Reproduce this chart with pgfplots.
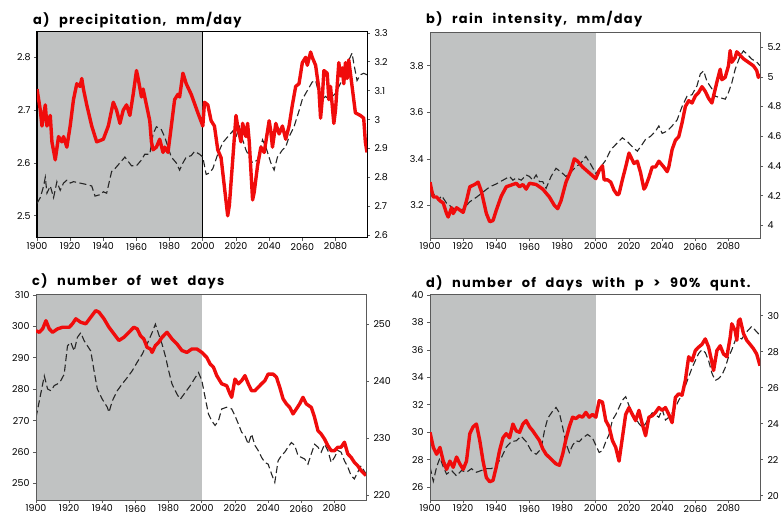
\documentclass[border=0pt]{standalone}
\usepackage{pgfplots}
\pgfplotsset{compat=1.18}
\usepackage{fontspec}
\setmainfont{Poppins}
\newfontfamily\titlefont{Poppins}[LetterSpace=10,WordSpace=2.4]
\definecolor{bandgrey}{RGB}{192,194,194}
\definecolor{redl}{RGB}{240,12,12}
\definecolor{framec}{RGB}{90,90,90}
\tikzset{
  ttl/.style={font=\titlefont\bfseries\fontsize{13}{14}\selectfont,anchor=base west,inner sep=0pt},
  redline/.style={redl,line width=3.4bp,line join=round},
  dashl/.style={black!85,line width=1.1bp,dash pattern=on 7bp off 3.5bp}
}
\pgfplotsset{
  base/.style={width=330bp,height=206bp,scale only axis,anchor=south west,
    xmin=1900,xmax=2099,clip=true,
    tick align=outside,major tick length=3bp,
    tick label style={font=\fontsize{9.5}{10}\selectfont},
    /pgf/number format/assume math mode=true,
    /pgf/number format/set thousands separator={},
    axis line style={framec,line width=0.8bp},
    every tick/.style={framec,line width=0.7bp}},
  rightax/.style={base,axis y line*=right,axis x line=none,
    ytick pos=right,yticklabel style={xshift=1bp}},
  leftax/.style={base,xtick={1900,1920,...,2080},xtick pos=bottom,ytick pos=left,
    xticklabel style={yshift=1.5bp}}
}
\begin{document}
\begin{tikzpicture}
\useasboundingbox (0bp,0bp) rectangle (784bp,517bp);
% ---------- panel a ----------
\begin{axis}[rightax,at={(37bp,279bp)},ymin=2.59,ymax=3.303,ytick={2.6,2.7,...,3.25},
  axis line style={black,line width=1bp}]
\fill[bandgrey,draw=black,line width=1bp] (axis cs:1900,2.59) rectangle (axis cs:2000,3.303);
\addplot[dashl] coordinates {(1900,2.71)(1902,2.73)(1904,2.77)(1905,2.80)(1906,2.745)(1908,2.77)(1910,2.73)(1912,2.785)(1914,2.755)(1916,2.78)(1918,2.79)(1920,2.78)(1922,2.785)(1926,2.78)(1930,2.775)(1933,2.77)(1935,2.735)(1938,2.74)(1940,2.75)(1942,2.745)(1945,2.82)(1947,2.83)(1950,2.85)(1953,2.87)(1955,2.855)(1957,2.84)(1960,2.84)(1963,2.86)(1965,2.88)(1968,2.88)(1970,2.95)(1972,2.975)(1975,2.965)(1977,2.94)(1979,2.905)(1981,2.87)(1984,2.85)(1986,2.825)(1988,2.85)(1990,2.87)(1993,2.875)(1995,2.89)(1998,2.88)(2000,2.87)(2002,2.81)(2004,2.815)(2006,2.83)(2009,2.88)(2012,2.92)(2015,2.94)(2018,2.96)(2020,2.94)(2022,2.975)(2024,2.93)(2026,2.895)(2028,2.87)(2030,2.85)(2033,2.86)(2036,2.93)(2038,2.905)(2041,2.85)(2043,2.825)(2045,2.87)(2048,2.895)(2050,2.905)(2052,2.94)(2055,2.975)(2058,3.03)(2060,3.07)(2063,3.10)(2066,3.13)(2068,3.135)(2070,3.09)(2072,3.07)(2074,3.08)(2076,3.07)(2078,3.08)(2080,3.09)(2083,3.125)(2086,3.16)(2088,3.205)(2090,3.23)(2091,3.195)(2093,3.135)(2095,3.155)(2097,3.16)(2099,3.155)};
\end{axis}
\begin{axis}[leftax,name=pa,at={(37bp,279bp)},ymin=2.458,ymax=2.848,ytick={2.5,2.6,2.7,2.8},
  yticklabel style={/pgf/number format/fixed,/pgf/number format/precision=1},
  axis line style={black,line width=1bp}]
\addplot[redline] coordinates {(1900,2.74)(1902,2.70)(1903,2.67)(1905,2.71)(1906,2.67)(1908,2.69)(1909,2.64)(1911,2.606)(1913,2.65)(1915,2.64)(1916,2.65)(1918,2.63)(1920,2.67)(1922,2.72)(1924,2.75)(1926,2.745)(1927,2.76)(1928,2.74)(1930,2.71)(1933,2.67)(1936,2.64)(1940,2.645)(1943,2.67)(1946,2.715)(1948,2.70)(1950,2.675)(1952,2.70)(1954,2.71)(1956,2.69)(1958,2.73)(1960,2.775)(1961,2.76)(1963,2.725)(1964,2.74)(1966,2.71)(1968,2.68)(1969,2.64)(1970,2.625)(1972,2.63)(1974,2.645)(1976,2.62)(1977,2.63)(1979,2.62)(1981,2.67)(1983,2.72)(1985,2.73)(1986,2.725)(1988,2.77)(1990,2.75)(1993,2.73)(1997,2.695)(2000,2.67)(2001,2.715)(2003,2.71)(2005,2.68)(2007,2.67)(2009,2.625)(2011,2.61)(2013,2.555)(2015,2.50)(2016,2.52)(2018,2.605)(2020,2.69)(2021,2.67)(2023,2.64)(2024,2.675)(2026,2.65)(2027,2.675)(2028,2.64)(2030,2.53)(2031,2.545)(2033,2.595)(2035,2.63)(2037,2.62)(2040,2.68)(2041,2.66)(2042,2.63)(2044,2.675)(2046,2.655)(2048,2.67)(2050,2.645)(2052,2.67)(2054,2.71)(2056,2.745)(2058,2.75)(2060,2.79)(2062,2.80)(2063,2.785)(2065,2.81)(2066,2.80)(2068,2.785)(2070,2.74)(2071,2.685)(2072,2.72)(2073,2.775)(2075,2.77)(2076,2.72)(2077,2.745)(2079,2.675)(2080,2.70)(2082,2.79)(2083,2.765)(2084,2.78)(2085,2.75)(2086,2.79)(2087,2.76)(2088,2.795)(2090,2.745)(2092,2.695)(2095,2.69)(2097,2.685)(2098,2.64)(2099,2.62)};
\end{axis}
\node[ttl] at ([xshift=-4bp,yshift=7bp]pa.north west) {a) precipitation, mm/day};
% ---------- panel b ----------
\begin{axis}[rightax,at={(430bp,279bp)},ymin=3.916,ymax=5.302,ytick={4,4.2,...,5.25}]
\fill[bandgrey] (axis cs:1900,3.916) rectangle (axis cs:2000,5.302);
\addplot[dashl] coordinates {(1900,4.19)(1902,4.215)(1905,4.17)(1907,4.20)(1910,4.15)(1913,4.125)(1916,4.10)(1920,4.11)(1924,4.16)(1928,4.19)(1932,4.225)(1936,4.26)(1940,4.28)(1944,4.305)(1948,4.33)(1950,4.305)(1952,4.32)(1955,4.305)(1958,4.34)(1960,4.33)(1962,4.305)(1964,4.34)(1966,4.295)(1968,4.295)(1970,4.25)(1973,4.33)(1976,4.385)(1979,4.36)(1982,4.33)(1985,4.36)(1988,4.395)(1991,4.42)(1994,4.465)(1997,4.41)(2000,4.35)(2003,4.395)(2006,4.44)(2009,4.51)(2012,4.545)(2016,4.59)(2019,4.565)(2022,4.53)(2025,4.50)(2027,4.53)(2030,4.58)(2033,4.60)(2036,4.635)(2038,4.67)(2040,4.62)(2043,4.635)(2046,4.67)(2049,4.71)(2052,4.80)(2055,4.87)(2058,4.88)(2061,4.94)(2063,5.02)(2065,5.04)(2067,4.97)(2070,4.92)(2072,4.87)(2075,4.86)(2078,4.85)(2080,4.895)(2082,4.96)(2084,5.05)(2087,5.14)(2089,5.175)(2091,5.155)(2094,5.12)(2097,5.10)(2099,5.075)};
\end{axis}
\begin{axis}[leftax,name=pb,at={(430bp,279bp)},ymin=3.06,ymax=3.945,ytick={3.2,3.4,3.6,3.8}]
\addplot[redline] coordinates {(1900,3.30)(1901,3.265)(1902,3.236)(1904,3.236)(1906,3.22)(1908,3.21)(1910,3.165)(1911,3.15)(1913,3.19)(1914,3.165)(1916,3.19)(1918,3.18)(1920,3.17)(1922,3.22)(1924,3.28)(1927,3.29)(1929,3.30)(1931,3.26)(1934,3.165)(1936,3.13)(1938,3.135)(1940,3.18)(1943,3.24)(1946,3.28)(1950,3.29)(1952,3.295)(1954,3.28)(1956,3.29)(1958,3.27)(1960,3.295)(1964,3.29)(1968,3.27)(1972,3.236)(1975,3.20)(1977,3.186)(1979,3.22)(1982,3.30)(1985,3.35)(1987,3.40)(1989,3.39)(1992,3.365)(1996,3.34)(2000,3.315)(2002,3.35)(2004,3.37)(2005,3.31)(2007,3.31)(2009,3.30)(2011,3.265)(2013,3.245)(2014,3.25)(2016,3.31)(2018,3.365)(2020,3.425)(2021,3.41)(2023,3.38)(2025,3.39)(2027,3.34)(2029,3.27)(2030,3.28)(2032,3.32)(2034,3.365)(2036,3.365)(2038,3.39)(2041,3.365)(2043,3.345)(2044,3.365)(2046,3.44)(2048,3.48)(2050,3.495)(2052,3.555)(2054,3.625)(2056,3.65)(2058,3.64)(2060,3.67)(2062,3.685)(2064,3.71)(2066,3.69)(2068,3.66)(2070,3.64)(2071,3.67)(2073,3.73)(2075,3.785)(2076,3.74)(2078,3.75)(2080,3.80)(2081,3.865)(2082,3.815)(2084,3.835)(2085,3.86)(2087,3.845)(2089,3.83)(2091,3.82)(2093,3.81)(2095,3.80)(2097,3.78)(2098,3.75)(2099,3.765)};
\end{axis}
\node[ttl] at ([xshift=-4bp,yshift=8bp]pb.north west) {b) rain intensity, mm/day};
% ---------- panel c ----------
\begin{axis}[rightax,at={(36bp,17bp)},ymin=219.1,ymax=255.3,ytick={220,230,240,250}]
\fill[bandgrey] (axis cs:1900,219.1) rectangle (axis cs:2000,255.3);
\addplot[dashl] coordinates {(1900,233.6)(1902,236.5)(1905,240.9)(1907,238.6)(1909,238.3)(1911,239.2)(1913,239.5)(1915,240.1)(1917,241.2)(1919,246.2)(1921,246.8)(1923,245.3)(1925,247.7)(1927,248.5)(1929,247.1)(1931,246.2)(1933,245.3)(1935,241.8)(1937,238.6)(1940,236.8)(1943,235.4)(1944,234.5)(1946,236.5)(1949,238.3)(1952,239.5)(1955,240.6)(1958,241.8)(1961,243.3)(1964,244.7)(1967,246.5)(1970,248.5)(1972,250)(1974,248.2)(1976,246.5)(1978,244.4)(1980,241.8)(1982,239.5)(1985,237.7)(1987,236.8)(1990,238.0)(1993,239.2)(1996,240.6)(1998,241.5)(2000,240.1)(2002,237.1)(2004,234.2)(2006,233)(2008,232.2)(2010,233)(2012,235.1)(2015,235.4)(2018,235.1)(2020,233.9)(2022,232.5)(2024,231)(2026,230.4)(2028,228.9)(2030,230.7)(2032,228.7)(2034,227.8)(2036,226.6)(2038,225.7)(2040,225.4)(2042,223.7)(2044,222.2)(2046,226)(2048,226.9)(2050,227.5)(2052,228.4)(2054,229.2)(2056,228.7)(2058,226.9)(2060,226.6)(2062,226.3)(2064,225.4)(2066,227.2)(2068,228.9)(2070,228.4)(2072,227.5)(2074,228.9)(2076,227.8)(2078,225.7)(2080,226.6)(2082,227.8)(2084,227.5)(2086,226)(2088,224.9)(2090,223.4)(2092,222.8)(2094,224)(2096,225.1)(2099,223.7)};
\end{axis}
\begin{axis}[leftax,name=pc,at={(36bp,17bp)},ymin=244.7,ymax=310.3,ytick={250,260,...,310}]
\addplot[redline] coordinates {(1900,298.6)(1902,298.1)(1904,299.2)(1906,301.8)(1908,299.2)(1910,298.1)(1913,299.2)(1916,299.7)(1920,299.7)(1922,300.8)(1924,302.4)(1927,301.3)(1930,300.8)(1933,302.9)(1936,305)(1938,304.5)(1941,302.4)(1944,299.7)(1947,297.6)(1950,295.5)(1953,296.5)(1956,298.1)(1959,299.7)(1961,299.2)(1963,297.0)(1965,296.0)(1967,293.3)(1969,292.8)(1970,291.7)(1972,293.9)(1974,294.9)(1976,296.5)(1979,298.1)(1982,296.0)(1985,294.4)(1988,292.3)(1991,291.7)(1994,292.8)(1997,292.8)(2000,291.7)(2003,290.1)(2005,288)(2007,287)(2009,284.3)(2012,281.7)(2015,281.1)(2017,278.5)(2018,277.4)(2020,283.2)(2022,281.7)(2024,282.7)(2026,284.3)(2028,281.7)(2030,279.5)(2032,279.5)(2034,280.6)(2036,281.7)(2038,282.7)(2040,284.8)(2043,284.8)(2045,283.8)(2047,280.6)(2049,276.9)(2051,275.3)(2053,274.2)(2055,272.1)(2057,273.7)(2059,275.3)(2061,277.4)(2063,275.3)(2066,274.2)(2068,271)(2070,266.8)(2072,265.7)(2074,264.1)(2076,262)(2078,260.4)(2080,260.4)(2082,261.5)(2084,261.5)(2086,263.1)(2088,259.4)(2090,258.3)(2092,256.7)(2094,255.6)(2096,254.1)(2099,252.5)};
\end{axis}
\node[ttl] at ([xshift=-4bp,yshift=8bp]pc.north west) {c) number of wet days};
% ---------- panel d ----------
\begin{axis}[rightax,at={(430bp,17bp)},ymin=19.76,ymax=31.2,ytick={20,22,...,30}]
\fill[bandgrey] (axis cs:1900,19.76) rectangle (axis cs:2000,31.2);
\addplot[dashl] coordinates {(1900,21.6)(1902,20.8)(1904,21.6)(1906,22.1)(1908,21.6)(1910,21.2)(1913,21.4)(1916,21.1)(1919,21.4)(1922,21.3)(1925,21.5)(1928,21.3)(1931,21.4)(1934,21.5)(1937,21.5)(1940,21.7)(1943,22.1)(1946,22.7)(1949,23.0)(1952,23.05)(1955,23.3)(1958,23.0)(1961,22.5)(1964,22.3)(1967,22.6)(1969,23.6)(1971,24.3)(1974,24.7)(1976,24.9)(1978,24.6)(1980,23.8)(1982,22.9)(1984,22.4)(1986,22.8)(1988,23.05)(1990,23.0)(1992,23.2)(1995,23.4)(1998,23.2)(2000,22.8)(2002,22.4)(2004,22.5)(2006,23.0)(2008,23.4)(2010,24.2)(2012,24.5)(2014,24.9)(2016,25.3)(2018,25.5)(2020,25.0)(2022,24.6)(2024,24.3)(2026,24.0)(2028,23.8)(2030,24.0)(2032,24.35)(2034,24.6)(2036,24.5)(2038,24.35)(2040,24.8)(2042,24.2)(2044,24.35)(2046,24.6)(2048,24.9)(2050,25.3)(2052,25.6)(2054,26.1)(2056,26.6)(2058,27.1)(2060,27.5)(2062,27.9)(2064,28.1)(2066,27.95)(2068,27.5)(2070,26.8)(2072,26.4)(2074,26.5)(2076,26.7)(2078,27.1)(2080,27.7)(2082,28.1)(2084,28.6)(2086,28.8)(2088,28.7)(2090,29.0)(2092,29.2)(2094,29.4)(2096,29.2)(2099,28.9)};
\end{axis}
\begin{axis}[leftax,name=pd,at={(430bp,17bp)},ymin=25.07,ymax=40.07,ytick={26,28,...,40}]
\addplot[redline] coordinates {(1900,30.0)(1902,28.9)(1904,28.4)(1906,28.9)(1908,27.9)(1910,27.3)(1912,27.9)(1914,27.45)(1916,28.2)(1918,27.7)(1920,27.3)(1922,27.9)(1924,29.9)(1926,30.4)(1928,30.6)(1930,29.4)(1932,27.9)(1934,26.7)(1936,26.4)(1938,26.5)(1940,27.5)(1942,28.7)(1944,29.6)(1946,29.9)(1948,29.6)(1950,30.6)(1952,30.1)(1954,30.0)(1956,30.6)(1958,30.85)(1960,30.4)(1962,30.1)(1964,29.75)(1966,29.4)(1968,28.8)(1970,28.4)(1973,28.05)(1976,27.7)(1978,27.6)(1980,28.4)(1982,29.5)(1984,30.4)(1986,31.1)(1988,31.0)(1990,31.2)(1992,31.1)(1994,31.45)(1996,31.1)(1998,31.3)(2000,31.1)(2002,32.3)(2004,32.2)(2006,30.85)(2008,30.4)(2010,29.4)(2012,28.9)(2014,27.9)(2016,29.6)(2018,31.3)(2020,31.8)(2022,31.3)(2024,30.85)(2026,31.6)(2028,30.6)(2030,29.75)(2032,31.1)(2034,31.2)(2036,31.45)(2038,31.8)(2040,31.6)(2042,31.8)(2044,31.3)(2046,30.7)(2048,32.55)(2050,32.8)(2052,32.7)(2054,33.8)(2056,35.5)(2058,35.2)(2060,35.95)(2062,36.2)(2064,36.4)(2066,36.8)(2068,36.2)(2070,35.1)(2071,34.5)(2073,35.95)(2075,36.3)(2077,35.7)(2079,35.5)(2081,36.9)(2082,37.9)(2084,37.4)(2085,36.7)(2086,38.1)(2087,38.25)(2089,37.2)(2091,36.7)(2093,36.4)(2095,36.1)(2097,35.7)(2099,34.85)};
\end{axis}
\node[ttl] at ([xshift=-4bp,yshift=6bp]pd.north west) {d) number of days with p > 90\% qunt.};
\end{tikzpicture}
\end{document}
